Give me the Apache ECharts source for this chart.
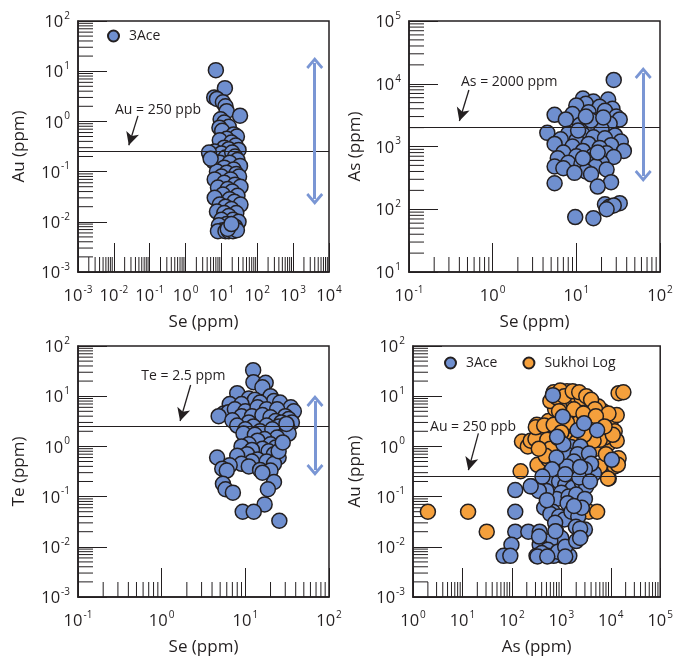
<!DOCTYPE html>
<html><head><meta charset="utf-8">
<script src="https://cdn.jsdelivr.net/npm/echarts@6/dist/echarts.min.js"></script>
<style>html,body{margin:0;padding:0;background:#fff}#c{width:676px;height:657px}</style>
</head><body><div id="c"></div>
<script>
// ---------------- data ----------------
// Panel A: Au (ppm) vs Se (ppm), 3Ace
const auVsSe3Ace = [
 [7,10.5],[12.5,4.6],[6.3,3.0],[7.5,2.8],[11,2.4],[13,2.0],[14,1.6],[33,1.3],[9.5,1.1],[12,0.95],
 [16,0.78],[8.8,0.75],[10.5,0.65],[22,0.55],[27,0.5],[14,0.45],[9,0.42],[19,0.38],[25,0.33],[12,0.3],
 [16,0.28],[30,0.27],[4.8,0.22],[5.5,0.2],[6.5,0.25],[8,0.21],[10,0.23],[13,0.19],[20,0.24],[24,0.2],
 [28,0.17],[6,0.16],[9,0.15],[17,0.15],[33,0.13],[12,0.12],[22,0.11],[7.5,0.1],[14,0.095],[26,0.09],
 [31,0.08],[10,0.08],[6.5,0.07],[18,0.07],[12,0.06],[24,0.055],[34,0.05],[8,0.048],[15,0.045],[20,0.04],
 [11,0.035],[28,0.033],[6.5,0.03],[17,0.028],[23,0.025],[34,0.022],[9,0.022],[13,0.02],[19,0.018],[7.5,0.016],
 [12,0.015],[26,0.015],[16,0.013],[21,0.011],[10,0.011],[30,0.01],[14,0.009],[8.5,0.0085],[24,0.008],[18,0.0075],
 [11,0.0068],[8,0.0065],[13,0.0065],[16,0.0065],[21,0.0065],[27,0.0068],[15,0.0072],[19,0.009],[4.5,0.24],[5,0.18]
];
// Panel B: As (ppm) vs Se (ppm), 3Ace
const asVsSe3Ace = [
 [28,11500],[12,5800],[24,5600],[16,5200],[13,4800],[10,4500],[19,4300],[27,4000],[22,3700],[14,3500],
 [9,3300],[5.5,3200],[30,3000],[33,2700],[7.5,2700],[17,2600],[25,2300],[11,2200],[14.5,2000],[20,1900],
 [4.5,1650],[8,1600],[12,1550],[29,1500],[16,1400],[22,1350],[6.5,1300],[10,1250],[34,1200],[5.5,1100],
 [14,1100],[26,1050],[9,1000],[19,950],[37,850],[12,850],[7,800],[23,780],[16,720],[10,700],
 [28,680],[6,650],[14,600],[20,550],[8,550],[11.5,520],[5.5,480],[17,480],[7,450],[23,430],
 [13,400],[9.5,380],[15,360],[26,270],[5.5,260],[18,230],[22,120],[25,110],[33,125],[28,115],
 [23,100],[9.7,75],[16,72],[12,650],[18,800],[10.5,1800],[15,2600],[21,2900],[13,3000]
];
// Panel C: Te (ppm) vs Se (ppm), 3Ace
const teVsSe3Ace = [
 [12.4,33],[12.5,19],[17.5,18.5],[16,15],[8,11.5],[20,10],[22,8],[11,9],[13,8.5],[15,7.5],
 [6.5,7],[9,7],[26,7.5],[35,6],[38,5],[5.5,4.5],[6.3,4.8],[7.5,5.5],[10,5],[14,6],
 [18,5.5],[24,5.5],[4.8,4],[9,4],[12,4],[16,4.2],[20,3.8],[30,4],[33,3.5],[7,3.3],
 [11,3.0],[23,3.2],[27,3.0],[36,3.0],[8,2.6],[12.5,2.5],[18,2.6],[25,2.5],[32,2.3],[10,2.2],
 [15,2.0],[21,2.2],[9.5,1.8],[13,1.7],[28,1.6],[33,1.8],[24,1.5],[17,1.4],[14,1.3],[11,1.1],
 [20,1.1],[9,1.0],[23,0.95],[16,0.9],[12,0.85],[19,0.8],[10.5,0.7],[22,0.7],[8,0.65],[25,0.6],
 [4.6,0.6],[14,0.55],[12,0.5],[18,0.5],[22,0.45],[9,0.45],[6.5,0.42],[5.3,0.36],[6,0.33],[11,0.4],
 [15,0.34],[20,0.33],[22,0.195],[5.4,0.18],[5.8,0.14],[7.1,0.12],[18.6,0.14],[17,0.07],[9.3,0.05],[12.6,0.05],
 [25.5,0.033],[16,0.3],[25,0.8],[28,1.2],[31,2.8]
];
// Panel D: Au (ppm) vs As (ppm)
const auVsAs3Ace = [
 [675,10.5],[1070,3.9],[2130,2.1],[2890,2.9],[5300,2.1],[850,1.47],[1560,0.97],[2430,1.0],[1340,0.68],[2130,0.7],
 [3630,0.72],[10500,0.54],[4570,0.29],[490,0.25],[720,0.25],[117,0.135],[245,0.16],[450,0.18],[600,0.22],[900,0.2],
 [1200,0.17],[1700,0.15],[2600,0.19],[3200,0.16],[1000,0.12],[550,0.1],[800,0.09],[1400,0.1],[2000,0.11],[117,0.05],
 [675,0.05],[1340,0.074],[450,0.06],[600,0.045],[900,0.04],[1150,0.035],[1600,0.05],[2200,0.04],[750,0.03],[117,0.02],
 [215,0.02],[365,0.02],[790,0.02],[1970,0.025],[2430,0.016],[1000,0.015],[600,0.013],[98,0.011],[365,0.011],[530,0.0087],
 [68,0.0066],[93,0.0066],[315,0.0066],[530,0.0066],[1070,0.0066],[1450,0.0066],[700,0.0066],[850,0.008],[1200,0.01],[400,0.0075],
 [1800,0.5],[4000,0.45],[3000,0.35],[2000,0.3],[1300,0.4],[800,0.6],[650,0.35],[1200,0.28],[2300,0.24],[3800,0.2],
 [3000,0.09],[2600,0.06],[1800,0.065],[500,0.13],[350,0.13],[2000,0.013],[3000,0.022],[415,0.25],[240,0.16],[510,0.085],
 [1100,1.1],[820,1.56],[2400,0.39],[2400,0.023],[2400,0.015],[330,0.0064],[520,0.0064],[1200,0.0064],[355,0.016],[760,0.0205]
];
const auVsAsSukhoi = [
 [2,0.05],[13,0.05],[31,0.02],[150,0.32],[160,1.25],[210,1.0],[240,1.3],[320,2.7],[460,2.5],[330,0.43],
 [380,1.6],[420,0.9],[500,1.9],[550,3.2],[600,1.4],[650,0.75],[700,12],[750,5.5],[800,2.2],[850,11],
 [900,0.6],[950,3.5],[1000,8],[1070,11.5],[1150,1.7],[1200,4.5],[1300,12.5],[1400,6.5],[1500,2.6],[1570,11.5],
 [1650,0.9],[1750,7.5],[1850,3.8],[2000,1.2],[2100,9.5],[2200,5],[2400,2],[2700,9.1],[2900,0.7],[3100,6.5],
 [3300,3],[3500,1.4],[3800,4.5],[4200,7],[4500,2.3],[5000,0.9],[5300,6.2],[5800,3.5],[6500,1.8],[7000,5],
 [8000,2.8],[9100,1.15],[9100,0.23],[10500,3.5],[12000,2.0],[13200,4.2],[13200,1.3],[14400,0.58],[14400,11.5],[18000,12],
 [12000,0.4],[2300,0.05],[3600,0.05],[5300,0.05],[2000,0.08],[1600,0.12],[700,0.35],[1200,0.45],[2500,0.6],[3000,0.3],
 [4000,0.25],[6000,0.4],[8000,0.7],[650,1.0],[900,1.6],[1100,2.4],[2400,3.2],[3200,1.1],[5500,2.2],[7500,1.5],
 [400,1.0],[300,1.4],[550,0.55],[1800,0.28],[2600,0.18],[1300,0.2],[305,2.4],[450,2.6],[520,1.35],[6000,1.35],
 [2580,9.1],[5600,6.2],[13900,0.43],[8800,0.23],[600,8],[800,9.5],[950,13],[1150,10],[1700,12.5],[2300,12],
 [3200,10],[4000,8.5],[4800,5.5],[900,5],[1300,3],[1800,5.5],[2800,4.5],[3600,2.4],[4500,1.3],[6500,3.0],
 [9000,4.5],[11000,1.7],[700,2.7],[1000,1.9],[1400,0.8],[2200,0.55],[2900,1.7],[5000,4],[7500,2.5],[600,0.9],
 [480,0.65],[350,0.9]
];

// axis ranges (decade exponents) and titles
const xDecades = [[-3,4],[-1,2],[-1,2],[0,5]];
const yDecades = [[-3,2],[1,5],[-3,2],[-3,2]];
const xTitles = ['Se (ppm)','Se (ppm)','Se (ppm)','As (ppm)'];
const yTitles = ['Au (ppm)','As (ppm)','Te (ppm)','Au (ppm)'];
// threshold lines and their annotations (data units)
const thresholdValues = [0.25, 2000, 2.5, 0.25];
const thresholdTexts = ['Au = 250 ppb','As = 2000 ppm','Te = 2.5 ppm','Au = 250 ppb'];
const textAnchors = [[0.17,1.7],[1.58,10700],[1.82,25],[16.4,2.44]];
const pointerStarts = [[0.047,1.29],[0.52,7950],[2.22,16.7],[21,1.82]];
const pointerEnds = [[0.0261,0.334],[0.40,2550],[1.66,3.2],[13.2,0.336]];
// vertical double arrows: [x, yTop, yBottom]
const rangeArrows = [[4000,14.6,0.0285],[63,14800,339],[68,8.0,0.339],null];

// ---------------- styles / layout ----------------
const FONT = '"Open Sans", "Noto Sans", sans-serif';
const INK = '#231f20';
const BLUE = '#6F8FCF';
const ORANGE = '#F5A03C';
const ARROW_BLUE = '#7A96D4';
const grids = [
  {left:78, top:21, width:251, height:251},
  {left:409, top:21, width:251, height:251},
  {left:78, top:346, width:251, height:251},
  {left:413, top:346, width:251, height:251}
];
const yNameGaps = [50, 45, 50, 49];
const CHEVRON = 'path://M50,0 L100,58 L88,70 L50,26 L12,70 L0,58 Z';

function powLabel(v){
  const e = Math.round(Math.log10(v));
  return '{b|10}{s|' + e + '}';
}
const labelRich = {
  b: {fontSize:16.5, fontFamily:FONT, color:INK, lineHeight:20, verticalAlign:'bottom'},
  s: {fontSize:10, fontFamily:FONT, color:INK, lineHeight:20, verticalAlign:'top', padding:[0,0,0,1]}
};
// minor tick positions 2..9 x 10^k inside each decade
function minorTicks(range){
  const out = [];
  for (let k = range[0]; k < range[1]; k++) for (let m = 2; m <= 9; m++) out.push(m * Math.pow(10, k));
  return out;
}
function tickRenderer(dir, len){
  return function(params, api){
    const p = api.coord([api.value(0), api.value(1)]);
    const shape = dir === 'x' ? {x1:p[0], y1:p[1], x2:p[0], y2:p[1]-len}
                              : {x1:p[0], y1:p[1], x2:p[0]+len, y2:p[1]};
    return {type:'line', shape:shape, style:{stroke:INK, lineWidth:1}, silent:true};
  };
}

const xAxes = [], yAxes = [], series = [];
for (let i = 0; i < 4; i++){
  const xr = xDecades[i], yr = yDecades[i];
  const common = {
    type:'log', logBase:10, gridIndex:i,
    axisLine:{show:true, onZero:false, lineStyle:{color:INK, width:1.5}},
    axisTick:{show:true, inside:true, length:29, lineStyle:{color:INK, width:1}},
    minorTick:{show:false}, splitLine:{show:false},
    nameLocation:'middle',
    nameTextStyle:{fontSize:17, fontFamily:FONT, color:INK}
  };
  xAxes.push(Object.assign({}, common, {
    min: Math.pow(10, xr[0]), max: Math.pow(10, xr[1]), splitNumber: xr[1]-xr[0],
    name: xTitles[i], nameGap: 42,
    axisLabel:{formatter:powLabel, rich:labelRich, margin:13, showMinLabel:true, showMaxLabel:true}
  }));
  yAxes.push(Object.assign({}, common, {
    min: Math.pow(10, yr[0]), max: Math.pow(10, yr[1]), splitNumber: yr[1]-yr[0],
    name: yTitles[i], nameGap: yNameGaps[i], nameRotate: 90,
    axisLabel:{formatter:powLabel, rich:labelRich, margin:8, showMinLabel:true, showMaxLabel:true}
  }));
  // minor ticks
  series.push({
    type:'custom', xAxisIndex:i, yAxisIndex:i, silent:true, clip:false, z:1,
    renderItem: tickRenderer('x', 15),
    data: minorTicks(xr).map(v => [v, Math.pow(10, yr[0])])
  });
  series.push({
    type:'custom', xAxisIndex:i, yAxisIndex:i, silent:true, clip:false, z:1,
    renderItem: tickRenderer('y', 15),
    data: minorTicks(yr).map(v => [Math.pow(10, xr[0]), v])
  });
}

function decorations(i){
  const lines = [
    [{coord:[Math.pow(10,xDecades[i][0]), thresholdValues[i]], symbol:'none'},
     {coord:[Math.pow(10,xDecades[i][1]), thresholdValues[i]], symbol:'none'}],
    [{coord:pointerStarts[i], symbol:'none', lineStyle:{color:INK, width:1.3, type:'solid'}},
     {coord:pointerEnds[i], symbol:'arrow', symbolSize:[10,13]}]
  ];
  const ra = rangeArrows[i];
  if (ra){
    lines.push([{coord:[ra[0], ra[1]], symbol:CHEVRON, symbolSize:[17,12], lineStyle:{color:ARROW_BLUE, width:3, type:'solid'}},
                {coord:[ra[0], ra[2]], symbol:CHEVRON, symbolSize:[17,12]}]);
  }
  return {
    markLine:{silent:true, animation:false, symbol:'none', label:{show:false},
      lineStyle:{color:INK, width:1.2, type:'solid'}, emphasis:{disabled:true}, data:lines},
    markPoint:{silent:true, animation:false, symbol:'circle', symbolSize:1,
      itemStyle:{color:'rgba(0,0,0,0)', borderWidth:0},
      label:{show:true, position:'inside', color:INK, fontSize:14, fontFamily:FONT, formatter:thresholdTexts[i]},
      data:[{coord:textAnchors[i]}]}
  };
}
function scatter(i, name, data, color, deco){
  const s = {type:'scatter', name:name, xAxisIndex:i, yAxisIndex:i, data:data, z:3,
    symbol:'circle', symbolSize:15,
    itemStyle:{color:color, borderColor:INK, borderWidth:1.5, opacity:1},
    emphasis:{disabled:true}};
  if (deco) Object.assign(s, decorations(i));
  return s;
}
series.push(scatter(0, '3Ace', auVsSe3Ace, BLUE, true));
series.push(scatter(1, '3Ace', asVsSe3Ace, BLUE, true));
series.push(scatter(2, '3Ace', teVsSe3Ace, BLUE, true));
series.push(scatter(3, 'Sukhoi Log', auVsAsSukhoi, ORANGE, false));
series.push(scatter(3, '3Ace', auVsAs3Ace, BLUE, true));

const legendCommon = {icon:'circle', itemWidth:21, itemHeight:11, selectedMode:false,
  textStyle:{fontSize:14, fontFamily:FONT, color:INK}, padding:0};
const option = {
  animation:false,
  backgroundColor:'#ffffff',
  textStyle:{fontFamily:FONT},
  grid: grids.map(g => Object.assign({show:true, borderColor:INK, borderWidth:1.5, backgroundColor:'transparent'}, g)),
  xAxis: xAxes, yAxis: yAxes,
  legend:[
    Object.assign({data:['3Ace'], left:107, top:29}, legendCommon),
    Object.assign({data:['3Ace','Sukhoi Log'], left:444, top:356, itemGap:25}, legendCommon)
  ],
  series: series
};
const chart = echarts.init(document.getElementById('c'), null, {renderer:'canvas'});
chart.setOption(option);
</script></body></html>
